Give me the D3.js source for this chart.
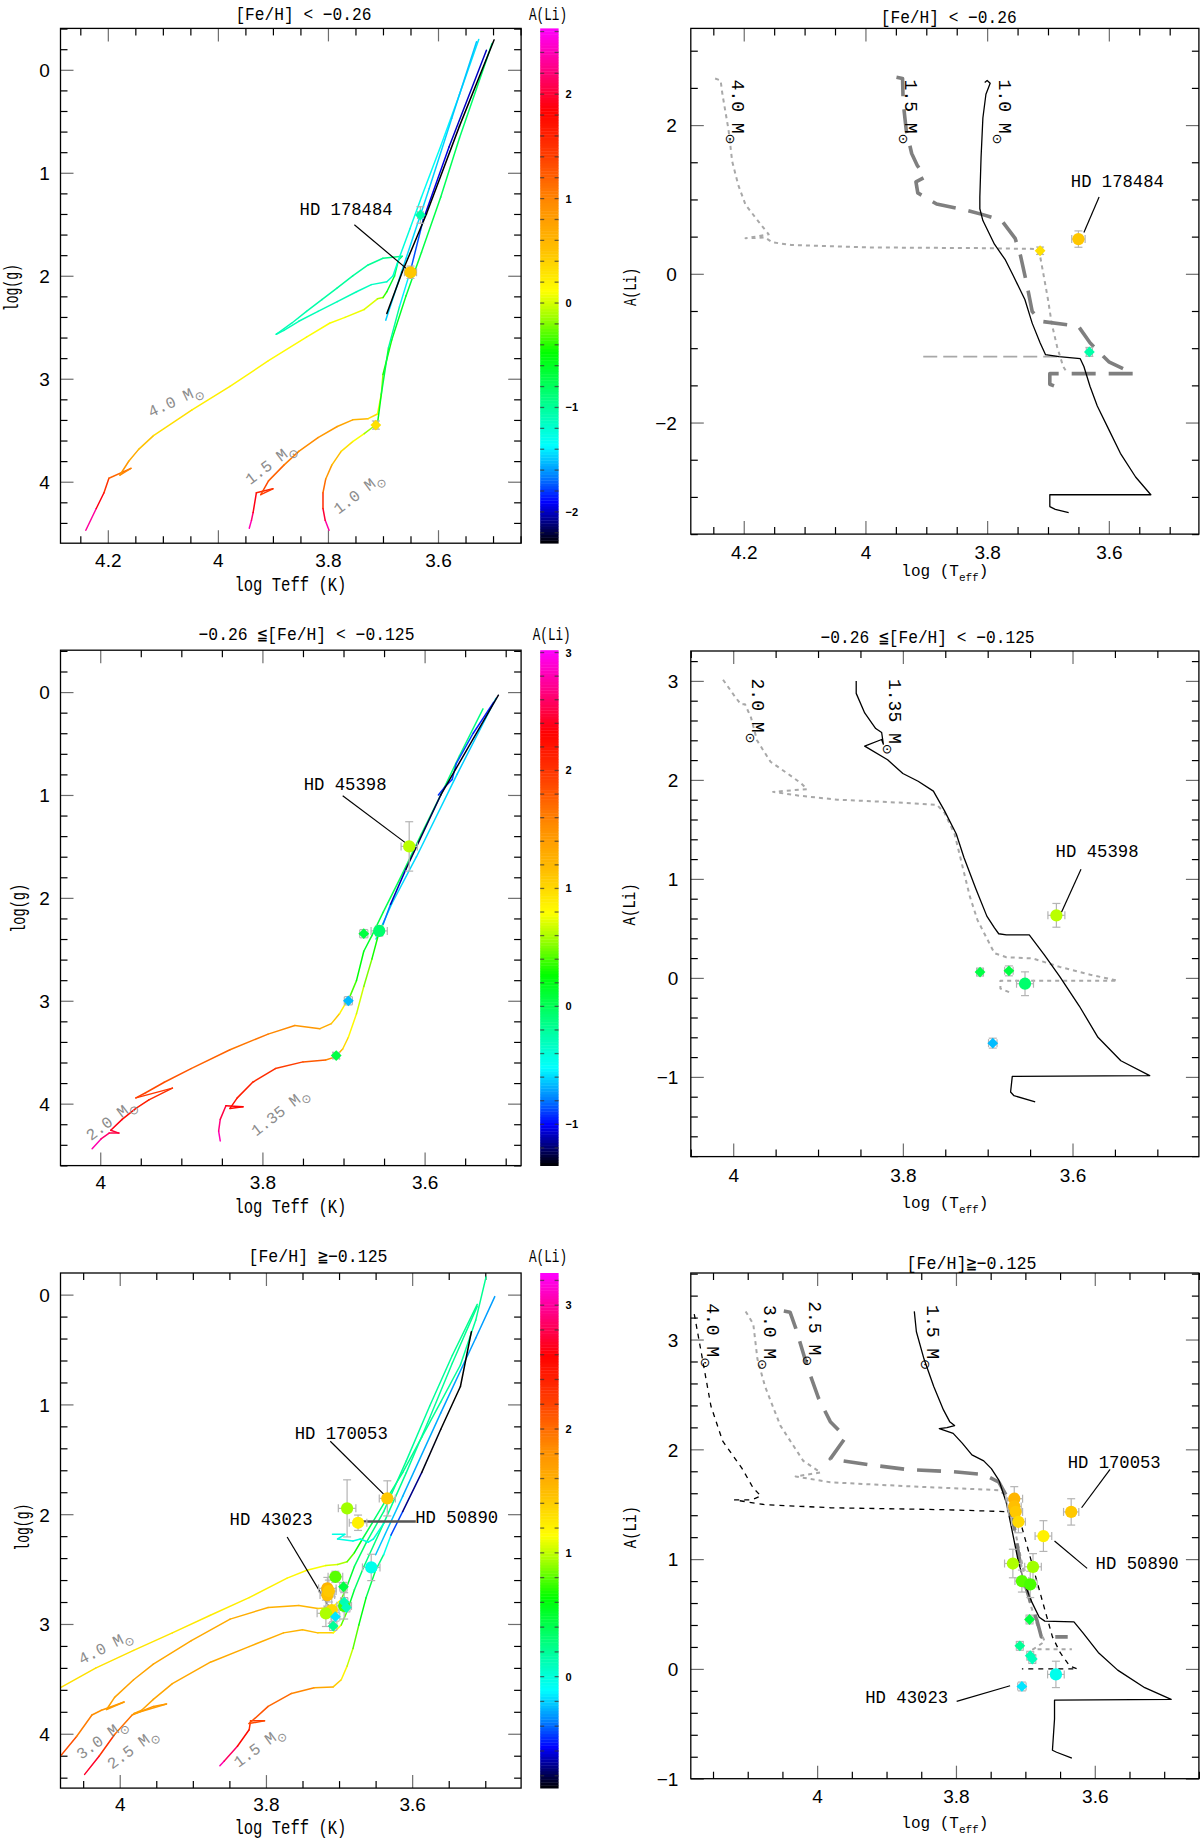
<!DOCTYPE html>
<html>
<head>
<meta charset="utf-8">
<title>Li tracks</title>
<script src="https://cdnjs.cloudflare.com/ajax/libs/d3/7.8.5/d3.min.js"></script>
<style>
  body { margin: 0; background: #fff; }
  svg { display: block; }
</style>
</head>
<body>
<script>
//colour table of the A(Li) bars (fraction along the bar -> colour)
var cmapStops  = [0, 0.04, 0.08, 0.13, 0.19, 0.26, 0.37, 0.44, 0.49, 0.57, 0.66, 0.75, 0.84, 0.92, 1];
var cmapColors = ["#000000", "#000080", "#0000ff", "#0080ff", "#00ffff", "#00ffa0", "#00ff00", "#a0ff00",
                  "#ffff00", "#ffc000", "#ff8c00", "#ff4000", "#ff0000", "#ff0080", "#ff00ff"];

//A(Li) range covered by each colour bar
var liRangeTop = [-2.30, 2.63];
var liRangeMid = [-1.35, 3.02];
var liRangeBot = [-0.90, 3.26];

//tick labels
var xTicksTop = [4.2, 4, 3.8, 3.6];
var xTicksLow = [4, 3.8, 3.6];
var yTicksLogg = [0, 1, 2, 3, 4];
var yTicksLiTop = [2, 0, -2];
var yTicksLiMid = [3, 2, 1, 0, -1];
var yTicksLiBot = [3, 2, 1, 0, -1];
var barTicksTop = [2, 1, 0, -1, -2];
var barTicksMid = [3, 2, 1, 0, -1];
var barTicksBot = [3, 2, 1, 0];

var titlesLeft  = ["[Fe/H] < \u22120.26", "\u22120.26 \u2266[Fe/H] < \u22120.125", "[Fe/H] \u2267\u22120.125"];
var titlesRight = ["[Fe/H] < \u22120.26", "\u22120.26 \u2266[Fe/H] < \u22120.125", "[Fe/H]\u2267\u22120.125"];

// ---------- HR tracks: [log Teff, log g, A(Li)] ----------
// [Fe/H] < -0.26
var hrTop40 = [[4.240,4.471,2.55],[4.221,4.260,2.10],[4.207,4.107,1.70],[4.198,3.966,1.30],[4.158,3.870,1.05],[4.178,3.935,0.95],
  [4.162,3.801,0.80],[4.144,3.686,0.60],[4.117,3.552,0.40],[4.047,3.303,0.25],[3.978,3.074,0.20],[3.908,2.825,0.15],
  [3.839,2.595,0.12],[3.797,2.461,0.10],[3.769,2.404,0.10],[3.734,2.327,0.05],[3.710,2.224,0.00],[3.700,2.212,-0.20],
  [3.693,2.155,-0.50],[3.679,2.002,-0.70],[3.672,1.849,-0.85],[3.665,1.811,-0.90],
  [3.700,1.830,-0.95],[3.727,1.895,-1.00],[3.755,2.002,-1.00],[3.783,2.117,-1.00],[3.811,2.232,-1.05],[3.839,2.346,-1.05],
  [3.866,2.461,-1.10],[3.894,2.568,-1.10],[3.880,2.530,-1.10],[3.853,2.442,-1.10],[3.818,2.346,-1.10],[3.783,2.251,-1.10],
  [3.748,2.155,-1.10],[3.721,2.086,-1.15],[3.693,2.059,-1.15],[3.682,2.002,-1.20],[3.672,1.849,-1.20],
  [3.651,1.543,-1.25],[3.630,1.236,-1.30],[3.595,0.739,-1.35],[3.561,0.241,-1.40],[3.526,-0.295,-1.45]];
var hrTop15 = [[3.943,4.452,2.50],[3.939,4.375,2.30],[3.936,4.299,2.10],[3.930,4.107,1.70],[3.900,4.069,1.50],[3.922,4.126,1.40],
  [3.908,3.992,1.30],[3.880,3.839,1.10],[3.853,3.705,1.00],[3.818,3.571,0.90],[3.783,3.464,0.80],[3.755,3.399,0.70],
  [3.727,3.388,0.50],[3.710,3.342,0.20],[3.703,3.150,0.00],[3.700,2.959,-0.30],[3.684,2.622,-0.55],[3.658,2.193,-0.65],
  [3.630,1.772,-0.70],[3.595,1.236,-0.75],[3.561,0.662,-0.80],[3.512,-0.096,-0.85],[3.502,-0.256,-1.00]];
var hrTop10 = [[3.798,4.471,2.50],[3.805,4.375,2.20],[3.809,4.260,1.80],[3.809,4.107,1.30],[3.804,3.973,1.00],[3.793,3.839,0.70],
  [3.776,3.705,0.40],[3.755,3.610,0.20],[3.734,3.533,0.00],[3.717,3.464,-0.30],[3.710,3.437,-0.50],[3.703,3.150,-0.60],
  [3.690,2.700,-0.80],[3.670,2.300,-1.20],[3.650,1.950,-1.60],[3.627,1.458,-1.90],[3.580,0.750,-2.00],[3.512,-0.190,-2.00]];
var hrTopClump = [[3.693,2.366,-2.30],[3.665,1.964,-2.30],[3.621,1.400,-2.30],[3.561,0.547,-2.30],[3.498,-0.291,-2.30]];
var hrTopAgb = [[3.695,2.431,-1.50],[3.658,1.830,-1.45],[3.616,1.152,-1.45],[3.575,0.471,-1.50],[3.530,-0.272,-1.50]];

// -0.26 <= [Fe/H] < -0.125
var hrMid20 = [[4.010,4.438,2.90],[3.999,4.343,2.70],[3.989,4.286,2.55],[3.977,4.286,2.50],[3.987,4.259,2.45],[3.973,4.153,2.30],
  [3.956,4.046,2.20],[3.940,3.963,2.10],[3.911,3.849,2.00],[3.956,3.944,1.95],[3.944,3.894,1.90],[3.921,3.792,1.85],
  [3.888,3.659,1.80],[3.840,3.476,1.70],[3.793,3.324,1.60],[3.760,3.241,1.50],[3.729,3.271,1.40],[3.715,3.222,1.20],
  [3.705,3.127,1.00],[3.698,3.032,0.70],[3.694,2.994,0.50],[3.684,2.804,0.30],[3.675,2.519,0.20],[3.665,2.367,0.10],
  [3.651,2.139,0.05],[3.627,1.759,0.00],[3.604,1.379,-0.05],[3.580,0.999,-0.10],[3.557,0.619,-0.10],[3.528,0.163,-0.15]];
var hrMid135 = [[3.852,4.362,2.90],[3.854,4.267,2.75],[3.852,4.153,2.60],[3.845,4.020,2.40],[3.824,4.031,2.30],[3.840,4.046,2.25],
  [3.831,3.944,2.20],[3.812,3.792,2.10],[3.784,3.659,2.00],[3.750,3.594,1.90],[3.722,3.575,1.70],[3.710,3.545,1.40],
  [3.701,3.469,1.10],[3.694,3.355,0.90],[3.684,3.127,0.75],[3.675,2.861,0.60],[3.665,2.595,0.40],[3.656,2.329,0.20],
  [3.651,2.253,-0.60],[3.642,2.063,-1.00],[3.623,1.721,-1.20],[3.580,0.999,-1.30],[3.509,0.030,-1.35]];
var hrMidLoop = [[3.583,1.000,-0.90],[3.575,0.923,-0.95],[3.566,0.850,-0.90],[3.561,0.695,-0.85],[3.540,0.400,-0.90],[3.515,0.100,-1.00]];
var hrMidCyan = [[3.660,2.400,-0.55],[3.640,2.050,-0.60],[3.610,1.600,-0.60],[3.560,0.800,-0.60],[3.512,0.060,-0.65]];

// [Fe/H] >= -0.125
var hrBot40 = [[4.081,3.580,1.30],[4.033,3.402,1.30],[3.981,3.241,1.28],[3.928,3.081,1.27],[3.876,2.921,1.25],[3.823,2.760,1.22],
  [3.771,2.582,1.20],[3.744,2.511,1.15],[3.718,2.468,1.10],[3.702,2.458,1.00],[3.689,2.433,0.90],[3.679,2.351,0.70],
  [3.668,2.226,0.50],[3.655,2.084,0.35],[3.639,1.906,0.30],[3.613,1.621,0.25],[3.587,1.300,0.22],[3.561,0.980,0.20],
  [3.534,0.641,0.20],[3.513,0.232,0.20],[3.499,-0.160,0.25]];
var hrBot30 = [[4.081,4.203,2.30],[4.059,4.025,2.00],[4.038,3.829,1.85],[4.025,3.786,1.80],[3.994,3.711,1.75],[4.018,3.779,1.72],
  [4.007,3.669,1.70],[3.981,3.508,1.68],[3.954,3.366,1.66],[3.902,3.152,1.64],[3.849,2.956,1.62],[3.797,2.850,1.60],
  [3.755,2.832,1.58],[3.729,2.860,1.50],[3.710,2.850,1.30],[3.697,2.778,1.00],[3.689,2.654,0.60],[3.679,2.476,0.40],
  [3.663,2.262,0.30],[3.639,1.977,0.25],[3.608,1.514,0.20],[3.576,1.015,0.20],[3.545,0.552,0.20],[3.511,0.089,0.25]];
var hrBot25 = [[4.048,4.370,2.90],[4.028,4.203,2.50],[4.007,4.007,2.10],[3.983,3.829,1.85],[3.954,3.751,1.78],[3.936,3.729,1.75],
  [3.981,3.818,1.72],[3.970,3.786,1.70],[3.954,3.687,1.68],[3.928,3.544,1.66],[3.876,3.348,1.64],[3.823,3.206,1.62],
  [3.776,3.081,1.60],[3.750,3.053,1.55],[3.729,3.081,1.48],[3.708,3.081,1.30],[3.697,3.010,1.00],[3.689,2.885,0.60],
  [3.679,2.689,0.40],[3.666,2.476,0.30],[3.639,2.084,0.25],[3.608,1.621,0.20],[3.576,1.122,0.20],[3.545,0.623,0.20],
  [3.511,0.107,0.25]];
var hrBot15 = [[3.863,4.292,3.10],[3.857,4.249,3.00],[3.839,4.114,2.70],[3.823,3.964,2.40],[3.821,3.882,2.30],[3.802,3.882,2.20],
  [3.823,3.907,2.15],[3.797,3.751,2.10],[3.765,3.633,1.95],[3.734,3.580,1.80],[3.708,3.573,1.50],[3.697,3.508,1.30],
  [3.689,3.384,1.10],[3.681,3.224,0.90],[3.673,3.010,0.70],[3.663,2.760,0.50],[3.650,2.511,0.35],[3.639,2.369,0.20],
  [3.629,2.191,-0.30],[3.613,1.977,-0.60],[3.587,1.621,-0.85],[3.561,1.229,-0.90],[3.534,0.837,-0.90],[3.519,0.338,-0.90]];
var hrBotBlue = [[3.650,2.369,-0.20],[3.613,1.838,-0.25],[3.561,1.079,-0.30],[3.513,0.395,-0.30],[3.487,0.018,-0.30]];
var hrBotLoop = [[3.709,2.183,0.00],[3.692,2.183,-0.05],[3.702,2.226,0.00],[3.681,2.244,-0.05],[3.671,2.226,0.00],
  [3.660,2.255,-0.05],[3.653,2.226,0.00],[3.639,2.084,0.05]];

// ---------- A(Li) tracks: [log Teff, A(Li)] ----------
var liTop40 = [[4.247,2.626],[4.238,2.599],[4.235,2.414],[4.225,1.936],[4.219,1.512],[4.209,1.194],[4.197,0.928],[4.172,0.663],
  [4.159,0.531],[4.197,0.477],[4.165,0.488],[4.153,0.424],[4.122,0.387],[3.996,0.355],[3.807,0.345],[3.719,0.334],[3.713,0.239],
  [3.707,-0.027],[3.700,-0.345],[3.694,-0.663],[3.685,-0.981],[3.675,-1.247],[3.669,-1.326]];
var liTopLoop = [[3.905,-1.114],[3.682,-1.114]];
var liTop15 = [[3.949,2.642],[3.939,2.626],[3.938,2.308],[3.933,1.936],[3.924,1.618],[3.915,1.459],[3.902,1.300],[3.917,1.236],
  [3.914,1.088],[3.883,0.939],[3.839,0.865],[3.807,0.796],[3.776,0.716],[3.754,0.477],[3.745,0.239],[3.735,-0.133],[3.726,-0.504],
  [3.713,-0.637],[3.650,-0.706],[3.631,-0.928],[3.600,-1.183],[3.559,-1.342],[3.697,-1.342],[3.697,-1.485],[3.672,-1.565]];
var liTop10 = [[3.804,2.573],[3.800,2.599],[3.795,2.562],[3.802,2.414],[3.807,2.095],[3.810,1.565],[3.812,1.034],[3.812,0.875],
  [3.807,0.716],[3.788,0.398],[3.770,0.186],[3.757,-0.027],[3.738,-0.345],[3.726,-0.663],[3.713,-0.928],[3.704,-1.088],
  [3.682,-1.114],[3.647,-1.141],[3.641,-1.247],[3.631,-1.512],[3.619,-1.777],[3.600,-2.095],[3.581,-2.414],[3.556,-2.732],
  [3.531,-2.971],[3.697,-2.971],[3.697,-3.130],[3.688,-3.167],[3.666,-3.210]];

var liMid20 = [[4.012,3.012],[3.999,2.854],[3.991,2.763],[3.986,2.763],[3.979,2.629],[3.972,2.400],[3.956,2.183],[3.936,2.065],
  [3.920,1.966],[3.913,1.907],[3.953,1.879],[3.922,1.840],[3.877,1.800],[3.818,1.777],[3.760,1.749],[3.751,1.670],[3.739,1.453],
  [3.730,1.137],[3.721,0.821],[3.712,0.584],[3.705,0.466],[3.692,0.249],[3.678,0.209],[3.647,0.197],[3.615,0.111],[3.579,0.032],
  [3.547,-0.028],[3.685,-0.028],[3.685,-0.107],[3.671,-0.158]];
var liMid135 = [[3.855,3.000],[3.855,2.874],[3.845,2.676],[3.832,2.519],[3.825,2.479],[3.823,2.361],[3.825,2.408],[3.845,2.341],
  [3.818,2.203],[3.800,2.065],[3.782,1.986],[3.764,1.887],[3.751,1.690],[3.737,1.453],[3.728,1.216],[3.714,0.900],[3.701,0.624],
  [3.692,0.505],[3.687,0.446],[3.678,0.434],[3.651,0.434],[3.633,0.229],[3.615,0.012],[3.592,-0.284],[3.570,-0.600],
  [3.543,-0.837],[3.509,-0.987],[3.671,-0.995],[3.673,-1.153],[3.669,-1.190],[3.644,-1.251]];

var liBot40 = [[4.177,3.232],[4.165,2.815],[4.153,2.394],[4.136,2.074],[4.108,1.824],[4.092,1.646],[4.081,1.575],[4.095,1.539],
  [4.119,1.539],[4.075,1.496],[3.981,1.468],[3.816,1.450],[3.724,1.432],[3.705,1.290],[3.694,1.040],[3.683,0.790],[3.672,0.540],
  [3.661,0.292],[3.650,0.150],[3.636,0.025],[3.625,0.000],[3.705,0.000]];
var liBot30 = [[4.103,3.256],[4.092,3.142],[4.086,2.822],[4.075,2.572],[4.053,2.216],[4.020,1.895],[3.995,1.789],[4.031,1.753],
  [3.981,1.700],[3.871,1.664],[3.738,1.628],[3.727,1.575],[3.716,1.290],[3.705,0.969],[3.694,0.613],[3.683,0.399],[3.672,0.250],
  [3.689,0.178],[3.633,0.178]];
var liBot25 = [[4.048,3.260],[4.039,3.249],[4.031,3.107],[4.014,2.750],[3.998,2.466],[3.981,2.252],[3.959,2.109],[3.981,1.913],
  [3.926,1.860],[3.871,1.817],[3.804,1.796],[3.760,1.771],[3.738,1.700],[3.727,1.575],[3.716,1.290],[3.705,0.862],[3.691,0.577],
  [3.683,0.435],[3.677,0.292],[3.639,0.292]];
var liBot15 = [[3.860,3.256],[3.857,3.071],[3.846,2.822],[3.832,2.572],[3.818,2.359],[3.809,2.252],[3.802,2.216],[3.813,2.198],
  [3.824,2.188],[3.804,2.145],[3.791,2.056],[3.777,1.949],[3.760,1.895],[3.749,1.824],[3.738,1.717],[3.727,1.504],[3.719,1.254],
  [3.711,1.005],[3.702,0.791],[3.691,0.613],[3.680,0.470],[3.672,0.435],[3.630,0.428],[3.617,0.328],[3.595,0.150],[3.567,-0.011],
  [3.528,-0.171],[3.490,-0.278],[3.658,-0.285],[3.658,-0.456],[3.661,-0.741],[3.655,-0.759],[3.633,-0.812]];

// ---------- stars ----------
var starsTopT  = [3.713, 3.650, 3.632];
var starsTopG  = [3.450, 1.966, 1.410];
var starsTopLi = [0.31, 0.467, -1.05];
var starsTopShape = ["d", "c", "d"];
var starsTopErrT = [0.004, 0.011, 0.005];
var starsTopErrG = [0.04, 0.06, 0.08];
var starsTopErrLi = [0.05, 0.11, 0.06];

var starsMidT  = [3.619, 3.709, 3.675, 3.656, 3.694];
var starsMidG  = [1.500, 3.533, 2.348, 2.321, 3.000];
var starsMidLi = [0.632, 0.059, 0.071, -0.059, -0.659];
var starsMidShape = ["c", "d", "d", "c", "d"];
var starsMidErrT = [0.010, 0.004, 0.005, 0.010, 0.005];
var starsMidErrG = [0.24, 0.03, 0.04, 0.05, 0.04];
var starsMidErrLi = [0.12, 0.04, 0.05, 0.12, 0.05];

var starsBotT  = [3.634, 3.674, 3.716, 3.716, 3.714, 3.710, 3.718, 3.689, 3.705, 3.693, 3.694, 3.708, 3.693, 3.690, 3.656, 3.705];
var starsBotG  = [1.856, 2.078, 2.676, 2.737, 2.700, 2.873, 2.903, 1.947, 2.570, 2.835, 2.661, 3.019, 2.800, 2.850, 2.485, 2.934];
var starsBotLi = [1.43, 1.21, 1.55, 1.48, 1.43, 1.34, 0.96, 0.93, 0.80, 0.77, 0.45, 0.21, 0.12, 0.09, -0.05, -0.16];
var starsBotShape = ["c","c","c","c","c","c","c","c","c","c","d","d","d","d","c","d"];
var starsBotErrT = [0.011, 0.012, 0.012, 0.010, 0.010, 0.010, 0.012, 0.012, 0.010, 0.010, 0.005, 0.005, 0.005, 0.005, 0.012, 0.006];
var starsBotErrG = [0.16, 0.07, 0.10, 0.10, 0.10, 0.12, 0.12, 0.26, 0.05, 0.12, 0.04, 0.04, 0.04, 0.04, 0.12, 0.04];
var starsBotErrLi = [0.12, 0.14, 0.11, 0.10, 0.10, 0.10, 0.13, 0.12, 0.10, 0.12, 0.04, 0.04, 0.04, 0.04, 0.12, 0.04];

// ---------- labels: name, text x, text y, leader from x,y to x,y ----------
var notesA = [["HD 178484", 3.767, 1.409, 3.752, 1.504, 3.653, 1.950]];
var notesB = [["HD 178484", 3.586, 1.167, 3.616, 1.034, 3.641, 0.557]];
var notesC = [["HD 45398", 3.698, 0.950, 3.701, 1.007, 3.621, 1.480]];
var notesD = [["HD 45398", 3.571, 1.224, 3.590, 1.097, 3.613, 0.663]];
var notesE = [["HD 170053", 3.697, 1.318, 3.712, 1.336, 3.639, 1.817],
              ["HD 50890", 3.539, 2.077, 3.595, 2.066, 3.671, 2.066],
              ["HD 43023", 3.793, 2.101, 3.771, 2.208, 3.710, 2.885]];
var notesF = [["HD 170053", 3.572, 1.831, 3.578, 1.817, 3.619, 1.468],
              ["HD 50890", 3.539, 0.912, 3.611, 0.916, 3.658, 1.165],
              ["HD 43023", 3.871, -0.306, 3.799, -0.296, 3.722, -0.153]];

// mass labels: text, x, y (data units), angle
var massA = [["4.0", 4.078, 3.208, -25], ["1.5", 3.905, 3.820, -37], ["1.0", 3.745, 4.107, -37]];
var massB = [["4.0", 4.209, 2.175, 90], ["1.5", 3.924, 2.175, 90], ["1.0", 3.770, 2.175, 90]];
var massC = [["2.0", 3.987, 4.153, -37], ["1.35", 3.779, 4.077, -38]];
var massD = [["2.0", 3.970, 2.696, 90], ["1.35", 3.809, 2.637, 90]];
var massE = [["4.0", 4.020, 3.206, -27], ["3.0", 4.025, 4.043, -36], ["2.5", 3.983, 4.132, -36], ["1.5", 3.810, 4.114, -36]];
var massF = [["4.0", 4.150, 3.036, 90], ["3.0", 4.067, 3.018, 90], ["2.5", 4.003, 3.053, 90], ["1.5", 3.832, 3.018, 90]];

// ================= drawing =================
var monoFont = "'Liberation Mono', 'DejaVu Sans Mono', monospace";
var sansFont = "'Liberation Sans', Arial, sans-serif";

var svg = d3.select("body").append("svg")
    .attr("width", 1200)
    .attr("height", 1845)
    .style("background", "#fff");

var cmap = d3.scaleLinear().domain(cmapStops).range(cmapColors).clamp(true);
function liColor(v, r) { return cmap((v - r[0]) / (r[1] - r[0])); }

function fmtTick(v) { return (v < 0 ? "\u2212" : "") + Math.abs(v); }

// multiples of step inside the domain that are not majors
function minorTicks(dom, step, majors) {
    var lo = Math.min(dom[0], dom[1]), hi = Math.max(dom[0], dom[1]);
    var out = [];
    for (var k = Math.ceil(lo / step - 1e-6); k * step <= hi + 1e-9; k++) {
        var v = Math.round(k * step * 1000) / 1000;
        if (!majors.some(function(m) { return Math.abs(m - v) < 1e-6; })) out.push(v);
    }
    return out;
}

function makePanel(id, box, xd, yd, xMaj, yMaj, yStep, pad) {
    var x = d3.scaleLinear().domain(xd).range([box.l, box.r]);
    var y = d3.scaleLinear().domain(yd).range([box.t, box.b]);
    var g = svg.append("g");

    svg.append("clipPath").attr("id", "clip" + id)
      .append("rect")
        .attr("x", box.l).attr("y", box.t)
        .attr("width", box.r - box.l).attr("height", box.b - box.t);

    var xMin = minorTicks(xd, 0.05, xMaj);
    var yMin = minorTicks(yd, yStep, yMaj);
    var axes = g.append("g");

    function put(gen, tx, ty, vals, len, col, labels) {
        var a = axes.append("g")
            .attr("transform", "translate(" + tx + "," + ty + ")")
            .call(gen.tickValues(vals).tickSize(-len).tickFormat(labels ? fmtTick : ""));
        a.select(".domain").remove();
        a.selectAll(".tick line").attr("stroke", col).attr("stroke-width", 1.2);
        return a;
    }
    // minor ticks (black), majors (grey) on all four sides, pointing in
    put(d3.axisBottom(x), 0, box.b, xMin, 7, "#000", false);
    put(d3.axisTop(x), 0, box.t, xMin, 7, "#000", false);
    put(d3.axisLeft(y), box.l, 0, yMin, 7, "#000", false);
    put(d3.axisRight(y), box.r, 0, yMin, 7, "#000", false);
    var bot = put(d3.axisBottom(x), 0, box.b, xMaj, 13, "#6e6e6e", true);
    put(d3.axisTop(x), 0, box.t, xMaj, 13, "#6e6e6e", false);
    var lft = put(d3.axisLeft(y), box.l, 0, yMaj, 13, "#6e6e6e", true);
    put(d3.axisRight(y), box.r, 0, yMaj, 13, "#6e6e6e", false);

    bot.selectAll("text")
        .attr("y", pad.x).attr("dy", null)
        .attr("fill", "#000")
        .style("font-family", sansFont).style("font-size", "19px");
    lft.selectAll("text")
        .attr("x", -pad.y).attr("dy", "0.36em")
        .attr("fill", "#000")
        .style("font-family", sansFont).style("font-size", "19px");

    var plot = g.append("g").attr("clip-path", "url(#clip" + id + ")");
    var over = g.append("g");

    g.append("rect")
        .attr("x", box.l).attr("y", box.t)
        .attr("width", box.r - box.l).attr("height", box.b - box.t)
        .attr("fill", "none").attr("stroke", "#000").attr("stroke-width", 1.3);

    return { x: x, y: y, g: g, plot: plot, over: over, box: box };
}

// plain text squeezed to the measured width
function label(x, y, s, size, len, rot) {
    var t = svg.append("text")
        .attr("transform", "translate(" + x + "," + y + ")" + (rot ? " rotate(" + rot + ")" : ""))
        .attr("text-anchor", "middle")
        .style("font-family", monoFont)
        .style("font-size", size + "px")
        .attr("fill", "#000")
        .text(s);
    if (len) t.attr("textLength", len).attr("lengthAdjust", "spacingAndGlyphs");
    return t;
}

function teffLabel(x, y) {
    var t = svg.append("text")
        .attr("x", x).attr("y", y)
        .attr("text-anchor", "middle")
        .style("font-family", monoFont).style("font-size", "16px");
    t.append("tspan").text("log (T");
    t.append("tspan").text("eff").attr("dy", 5).style("font-size", "11px");
    t.append("tspan").text(")").attr("dy", -5);
}

function colorBar(box, range, ticks) {
    var bx0 = 540.2, bx1 = 558.6;
    var cy = d3.scaleLinear().domain([range[1], range[0]]).range([box.t, box.b]);
    var n = 180, step = (range[1] - range[0]) / n;
    svg.append("g").selectAll("rect")
        .data(d3.range(n))
        .enter().append("rect")
        .attr("x", bx0).attr("width", bx1 - bx0)
        .attr("y", function(d) { return cy(range[0] + (d + 1) * step); })
        .attr("height", function(d) { return cy(range[0] + d * step) - cy(range[0] + (d + 1) * step) + 0.4; })
        .attr("fill", function(d) { return liColor(range[0] + (d + 0.5) * step, range); });

    var small = minorTicks(range, 0.2, []);
    var tk = svg.append("g");
    [bx0, bx1 - 4].forEach(function(xx) {
        tk.selectAll(null).data(small).enter().append("line")
            .attr("x1", xx).attr("x2", xx + 4)
            .attr("y1", function(d) { return cy(d); }).attr("y2", function(d) { return cy(d); })
            .attr("stroke", "#333").attr("stroke-opacity", 0.7).attr("stroke-width", 1.3);
    });
    tk.selectAll(null).data(ticks).enter().append("text")
        .attr("x", bx1 + 7).attr("y", function(d) { return cy(d); })
        .attr("dy", "0.36em")
        .style("font-family", sansFont).style("font-size", "11px").style("font-weight", "bold")
        .text(fmtTick);
}

// HR track coloured by A(Li), one segment per pair of points
function hrTrack(p, pts, range) {
    p.plot.append("g").selectAll("line")
        .data(d3.pairs(pts))
        .enter().append("line")
        .attr("x1", function(d) { return p.x(d[0][0]); })
        .attr("y1", function(d) { return p.y(d[0][1]); })
        .attr("x2", function(d) { return p.x(d[1][0]); })
        .attr("y2", function(d) { return p.y(d[1][1]); })
        .attr("stroke", function(d) { return liColor((d[0][2] + d[1][2]) / 2, range); })
        .attr("stroke-width", 1.5)
        .attr("stroke-linecap", "round");
}

var lineStyles = {
    solid:  { stroke: "#000", width: 1.3, dash: null },
    dotted: { stroke: "#a8a8a8", width: 2.0, dash: "4,4" },
    thick:  { stroke: "#7f7f7f", width: 3.6, dash: "24,13" },
    bdash:  { stroke: "#000", width: 1.3, dash: "5,5" },
    long:   { stroke: "#a8a8a8", width: 1.8, dash: "14,6" }
};

function liTrack(p, pts, style) {
    var s = lineStyles[style];
    var valueline = d3.line()
        .x(function(d) { return p.x(d[0]); })
        .y(function(d) { return p.y(d[1]); });
    p.plot.append("path")
        .datum(pts)
        .attr("d", valueline)
        .attr("fill", "none")
        .attr("stroke", s.stroke)
        .attr("stroke-width", s.width)
        .attr("stroke-dasharray", s.dash)
        .attr("stroke-linejoin", "round");
}

function notes(p, list, widths) {
    list.forEach(function(n, i) {
        p.over.append("line")
            .attr("x1", p.x(n[3])).attr("y1", p.y(n[4]))
            .attr("x2", p.x(n[5])).attr("y2", p.y(n[6]))
            .attr("stroke", widths && widths[i] > 2 ? "#555" : "#000")
            .attr("stroke-width", widths ? widths[i] : 1.2);
        p.over.append("text")
            .attr("x", p.x(n[1])).attr("y", p.y(n[2]))
            .attr("text-anchor", "middle")
            .style("font-family", monoFont).style("font-size", "18px")
            .attr("textLength", n[0].length > 8 ? 93 : 83).attr("lengthAdjust", "spacingAndGlyphs")
            .text(n[0]);
    });
}

function stars(p, T, V, eT, eV, li, shape, range) {
    var idx = d3.range(T.length);
    var eb = p.over.append("g").attr("stroke", "#b4b4b4").attr("stroke-width", 1.2);
    idx.forEach(function(i) {
        var cx = p.x(T[i]), cy = p.y(V[i]);
        var y0 = p.y(V[i] - eV[i]), y1 = p.y(V[i] + eV[i]);
        var x0 = p.x(T[i] - eT[i]), x1 = p.x(T[i] + eT[i]);
        eb.append("line").attr("x1", cx).attr("x2", cx).attr("y1", y0).attr("y2", y1);
        eb.append("line").attr("x1", cx - 4).attr("x2", cx + 4).attr("y1", y0).attr("y2", y0);
        eb.append("line").attr("x1", cx - 4).attr("x2", cx + 4).attr("y1", y1).attr("y2", y1);
        eb.append("line").attr("x1", x0).attr("x2", x1).attr("y1", cy).attr("y2", cy);
        eb.append("line").attr("x1", x0).attr("x2", x0).attr("y1", cy - 4).attr("y2", cy + 4);
        eb.append("line").attr("x1", x1).attr("x2", x1).attr("y1", cy - 4).attr("y2", cy + 4);
    });
    var sq = d3.symbol().type(d3.symbolSquare).size(58);
    p.over.append("g").selectAll("path")
        .data(idx)
        .enter().append("path")
        .attr("d", function(i) { return shape[i] === "c" ? d3.symbol().type(d3.symbolCircle).size(118)() : sq(); })
        .attr("transform", function(i) {
            return "translate(" + p.x(T[i]) + "," + p.y(V[i]) + ")" + (shape[i] === "c" ? "" : " rotate(45)");
        })
        .attr("fill", function(i) { return liColor(li[i], range); });
}

function massLabels(p, list, right) {
    list.forEach(function(m) {
        var t = p.over.append("text")
            .attr("transform", "translate(" + p.x(m[1]) + "," + p.y(m[2]) + ") rotate(" + m[3] + ")")
            .attr("text-anchor", "middle")
            .attr("dy", "0.35em")
            .attr("fill", right ? "#000" : "#8c8c8c")
            .style("font-family", monoFont)
            .style("font-size", right ? "18px" : "16px");
        t.append("tspan").text(m[0] + " M");
        t.append("tspan").text("\u2299").attr("dy", right ? 6 : 5)
            .style("font-family", "'DejaVu Sans', sans-serif")
            .style("font-size", right ? "13px" : "12px");
    });
}

// ---------- panel boxes ----------
var boxA = { l: 60.5, r: 521.1, t: 28.4, b: 543.2 };
var boxB = { l: 690.8, r: 1198.9, t: 28.4, b: 534.1 };
var boxC = { l: 60.5, r: 521.1, t: 650.2, b: 1165.6 };
var boxD = { l: 690.8, r: 1198.9, t: 651.0, b: 1156.6 };
var boxE = { l: 60.5, r: 521.1, t: 1273.0, b: 1788.1 };
var boxF = { l: 690.8, r: 1198.9, t: 1273.0, b: 1778.7 };

var pA = makePanel("A", boxA, [4.286, 3.449], [-0.402, 4.597], xTicksTop, yTicksLogg, 0.2, { x: 23.6, y: 10.7 });
var pB = makePanel("B", boxB, [4.287, 3.452], [3.30, -3.50], xTicksTop, yTicksLiTop, 0.5, { x: 24.9, y: 14 });
var pC = makePanel("C", boxC, [4.049, 3.481], [-0.407, 4.602], xTicksLow, yTicksLogg, 0.2, { x: 23.5, y: 10.7 });
var pD = makePanel("D", boxD, [4.050, 3.451], [3.302, -1.805], xTicksLow, yTicksLiMid, 0.2, { x: 25.5, y: 12.5 });
var pE = makePanel("E", boxE, [4.081, 3.451], [-0.197, 4.495], xTicksLow, yTicksLogg, 0.2, { x: 22.7, y: 10.7 });
var pF = makePanel("F", boxF, [4.182, 3.450], [3.606, -1.000], xTicksLow, yTicksLiBot, 0.2, { x: 24.3, y: 12.5 });

colorBar(boxA, liRangeTop, barTicksTop);
colorBar(boxC, liRangeMid, barTicksMid);
colorBar(boxE, liRangeBot, barTicksBot);

// ---------- top row ----------
[hrTop40, hrTop15, hrTopAgb, hrTop10, hrTopClump].forEach(function(t) { hrTrack(pA, t, liRangeTop); });
liTrack(pB, liTop40, "dotted");
liTrack(pB, liTopLoop, "long");
liTrack(pB, liTop15, "thick");
liTrack(pB, liTop10, "solid");

// ---------- middle row ----------
[hrMid20, hrMidCyan, hrMidLoop, hrMid135].forEach(function(t) { hrTrack(pC, t, liRangeMid); });
liTrack(pD, liMid20, "dotted");
liTrack(pD, liMid135, "solid");

// ---------- bottom row ----------
[hrBot40, hrBot30, hrBot25, hrBotLoop, hrBotBlue, hrBot15].forEach(function(t) { hrTrack(pE, t, liRangeBot); });
liTrack(pF, liBot30, "dotted");
liTrack(pF, liBot25, "thick");
liTrack(pF, liBot40, "bdash");
liTrack(pF, liBot15, "solid");

massLabels(pA, massA, false);
massLabels(pB, massB, true);
massLabels(pC, massC, false);
massLabels(pD, massD, true);
massLabels(pE, massE, false);
massLabels(pF, massF, true);

notes(pA, notesA);
notes(pB, notesB);
notes(pC, notesC);
notes(pD, notesD);
notes(pE, notesE, [1.2, 2.6, 1.2]);
notes(pF, notesF);

stars(pA, starsTopT, starsTopG, starsTopErrT, starsTopErrG, starsTopLi, starsTopShape, liRangeTop);
stars(pB, starsTopT, starsTopLi, starsTopErrT, starsTopErrLi, starsTopLi, starsTopShape, liRangeTop);
stars(pC, starsMidT, starsMidG, starsMidErrT, starsMidErrG, starsMidLi, starsMidShape, liRangeMid);
stars(pD, starsMidT, starsMidLi, starsMidErrT, starsMidErrLi, starsMidLi, starsMidShape, liRangeMid);
stars(pE, starsBotT, starsBotG, starsBotErrT, starsBotErrG, starsBotLi, starsBotShape, liRangeBot);
stars(pF, starsBotT, starsBotLi, starsBotErrT, starsBotErrLi, starsBotLi, starsBotShape, liRangeBot);

// ---------- titles and axis names ----------
label(303.4, 20, titlesLeft[0], 18, 136);
label(948.7, 22.5, titlesRight[0], 18, 136);
label(306.5, 640.4, titlesLeft[1], 18, 216);
label(927.6, 643.2, titlesRight[1], 18, 214);
label(318, 1262, titlesLeft[2], 18, 139);
label(971.6, 1269, titlesRight[2], 18, 130);

label(548, 20, "A(Li)", 18, 38);
label(551.7, 640.4, "A(Li)", 18, 38);
label(548, 1262, "A(Li)", 18, 38);

label(290.4, 591, "log Teff (K)", 20, 112);
label(290.4, 1213.4, "log Teff (K)", 20, 112);
label(290.4, 1834, "log Teff (K)", 20, 112);

label(18, 287.7, "log(g)", 20, 47, -90);
label(25, 908.3, "log(g)", 20, 49, -90);
label(29, 1527.2, "log(g)", 20, 47, -90);

label(636, 287, "A(Li)", 19, 38, -90);
label(635, 904.4, "A(Li)", 19, 42, -90);
label(636, 1527.2, "A(Li)", 19, 42, -90);

teffLabel(944.8, 575.5);
teffLabel(944.8, 1207.5);
teffLabel(944.8, 1828.4);
</script>
</body>
</html>
